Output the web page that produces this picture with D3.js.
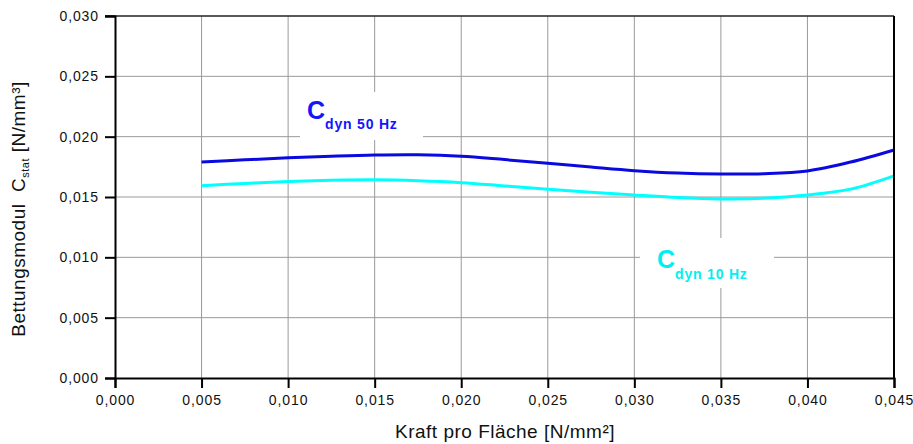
<!DOCTYPE html>
<html>
<head>
<meta charset="utf-8">
<script src="https://cdn.jsdelivr.net/npm/d3@7"></script>
<style>
  body { margin: 0; background: #fff; }
  svg text { font-family: "Liberation Sans", Arial, Helvetica, sans-serif; }
</style>
</head>
<body>
<svg id="chart"></svg>
<script>
// x values (Kraft pro Fläche) shared by both curves
var kraft = [0.005, 0.0075, 0.010, 0.0125, 0.015, 0.0175, 0.020, 0.0225, 0.025,
             0.0275, 0.030, 0.0325, 0.035, 0.0375, 0.040, 0.0425, 0.045];

// C dyn 50 Hz
var dyn50 = [0.01790, 0.01808, 0.01825, 0.01838, 0.01848, 0.01850, 0.01838, 0.01810, 0.01780,
             0.01748, 0.01718, 0.01698, 0.01690, 0.01693, 0.01716, 0.01790, 0.01890];

// C dyn 10 Hz
var dyn10 = [0.01594, 0.01612, 0.01628, 0.01638, 0.01642, 0.01635, 0.01619, 0.01592, 0.01565,
             0.01540, 0.01517, 0.01495, 0.01484, 0.01490, 0.01517, 0.01565, 0.01675];

var xTicks = [0, 0.005, 0.010, 0.015, 0.020, 0.025, 0.030, 0.035, 0.040, 0.045];
var yTicks = [0, 0.005, 0.010, 0.015, 0.020, 0.025, 0.030];

var fmt = function(v) { return d3.format(".3f")(v).replace(".", ","); };

var screen = {width: 913, height: 444};
var margins = {top: 16, bottom: 66, left: 115, right: 19};
var graph = {
    width: screen.width - margins.left - margins.right,
    height: screen.height - margins.top - margins.bottom
};

var svg = d3.select("#chart")
    .attr("width", screen.width)
    .attr("height", screen.height);

var xScale = d3.scaleLinear().domain([0, 0.045]).range([0, graph.width]);
var yScale = d3.scaleLinear().domain([0, 0.030]).range([graph.height, 0]);

var g = svg.append("g")
    .attr("transform", "translate(" + margins.left + "," + margins.top + ")");

// grid
g.append("g").selectAll("line").data(xTicks.slice(1, -1)).enter().append("line")
    .attr("x1", d => xScale(d)).attr("x2", d => xScale(d))
    .attr("y1", 0).attr("y2", graph.height)
    .attr("stroke", "#9a9a9a").attr("stroke-width", 1);
g.append("g").selectAll("line").data(yTicks.slice(1, -1)).enter().append("line")
    .attr("x1", 0).attr("x2", graph.width)
    .attr("y1", d => yScale(d)).attr("y2", d => yScale(d))
    .attr("stroke", "#9a9a9a").attr("stroke-width", 1);

// label boxes (white, cover the grid)
g.append("rect").attr("x", 185).attr("y", 76).attr("width", 123).attr("height", 48).attr("fill", "#fff");
g.append("rect").attr("x", 525).attr("y", 222).attr("width", 134).attr("height", 50).attr("fill", "#fff");

// curves
var line = d3.line()
    .x(function(d) { return xScale(d[0]); })
    .y(function(d) { return yScale(d[1]); })
    .curve(d3.curveCatmullRom);

g.append("path")
    .datum(kraft.map((k, i) => [k, dyn10[i]]))
    .attr("d", line).attr("fill", "none")
    .attr("stroke", "#00ffff").attr("stroke-width", 3);

g.append("path")
    .datum(kraft.map((k, i) => [k, dyn50[i]]))
    .attr("d", line).attr("fill", "none")
    .attr("stroke", "#0a0ae0").attr("stroke-width", 3);

// frame
g.append("line").attr("x1", -10).attr("x2", graph.width).attr("y1", 0).attr("y2", 0)
    .attr("stroke", "#222").attr("stroke-width", 1.5);
g.append("line").attr("x1", graph.width).attr("x2", graph.width).attr("y1", 0).attr("y2", graph.height + 1)
    .attr("stroke", "#000").attr("stroke-width", 2);

// axes
var xMinor = d3.range(0, 46).map(d => d * 0.001);
var yMinor = d3.range(0, 31).map(d => d * 0.001);

var xAxis = g.append("g").attr("transform", "translate(0," + graph.height + ")");
xAxis.call(d3.axisBottom(xScale).tickValues(xMinor).tickSize(5).tickFormat(""));
xAxis.call(d3.axisBottom(xScale).tickValues(xTicks).tickSize(10).tickPadding(7).tickFormat(fmt));

var yAxis = g.append("g");
yAxis.call(d3.axisLeft(yScale).tickValues(yMinor).tickSize(5).tickFormat(""));
yAxis.call(d3.axisLeft(yScale).tickValues(yTicks).tickSize(10).tickPadding(6).tickFormat(fmt));

g.selectAll(".domain").attr("stroke", "#000").attr("stroke-width", 2);
g.selectAll(".tick line").attr("stroke", "#000").attr("stroke-width", 2);
g.selectAll(".tick text")
    .style("font-family", "'Liberation Sans', Arial, sans-serif")
    .style("font-size", "14px")
    .style("letter-spacing", "0.9px")
    .attr("fill", "#111");

// axis titles
svg.append("text")
    .attr("x", 505).attr("y", 438)
    .attr("text-anchor", "middle")
    .style("font-size", "19px")
    .style("letter-spacing", "0.5px")
    .attr("fill", "#111")
    .text("Kraft pro Fläche [N/mm²]");

var yTitle = svg.append("text")
    .attr("transform", "translate(25,209) rotate(-90)")
    .attr("text-anchor", "middle")
    .style("font-size", "19px")
    .style("letter-spacing", "0.5px")
    .attr("fill", "#111");
yTitle.append("tspan").text("Bettungsmodul\u00a0\u00a0C");
yTitle.append("tspan").attr("dy", 4).style("font-size", "11px").text("stat");
yTitle.append("tspan").attr("dy", -4).text("\u00a0[N/mm³]");

// series labels
var lab50 = svg.append("text").attr("x", 307).attr("y", 119)
    .attr("fill", "#1414ff").style("font-weight", "bold");
lab50.append("tspan").style("font-size", "25px").text("C");
lab50.append("tspan").attr("dy", 10).style("font-size", "14px").style("letter-spacing", "0.8px").text("dyn 50 Hz");

var lab10 = svg.append("text").attr("x", 657).attr("y", 268)
    .attr("fill", "#00f0f0").style("font-weight", "bold");
lab10.append("tspan").style("font-size", "25px").text("C");
lab10.append("tspan").attr("dy", 11).style("font-size", "14px").style("letter-spacing", "0.8px").text("dyn 10 Hz");
</script>
</body>
</html>
